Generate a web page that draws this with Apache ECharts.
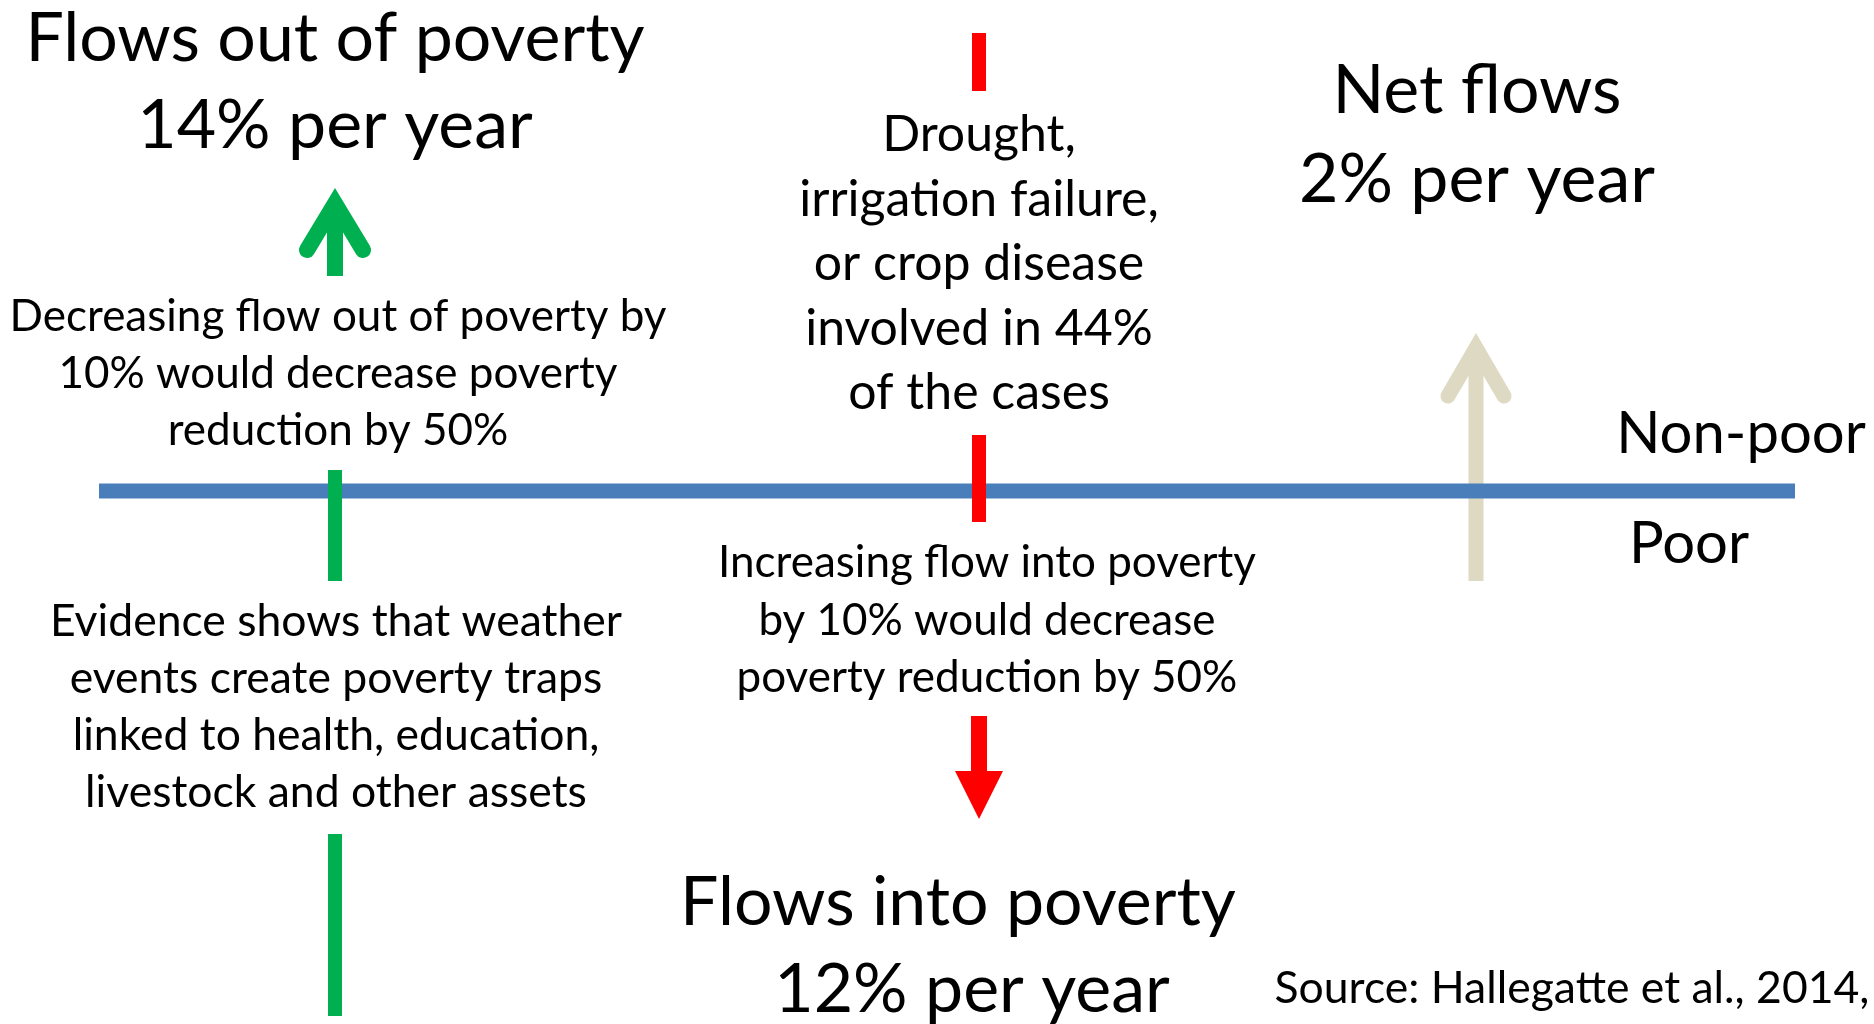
<!DOCTYPE html>
<html>
<head>
<meta charset="utf-8">
<title>Flows in and out of poverty</title>
<script src="https://cdn.jsdelivr.net/npm/echarts@6/dist/echarts.min.js"></script>
<style>
  html, body { margin: 0; padding: 0; background: #ffffff; }
  #chart { width: 1874px; height: 1024px; }
</style>
</head>
<body>
<div id="chart"></div>
<script>
// ---- content -------------------------------------------------------------
const flowTitles = ['Flows out of poverty', 'Flows into poverty', 'Net flows'];
const flowRates = [14, 12, 2];            // share of households per year (%)
const rateSuffix = '% per year';
const sideLabels = ['Non-poor', 'Poor'];
const droughtShare = 44;                  // % of descents into poverty
const droughtNote = ['Drought,', 'irrigation failure,', 'or crop disease',
                     'involved in ' + droughtShare + '%', 'of the cases'];
const outflowNote = ['Decreasing flow out of poverty by', '10% would decrease poverty', 'reduction by 50%'];
const inflowNote = ['Increasing flow into poverty', 'by 10% would decrease', 'poverty reduction by 50%'];
const trapNote = ['Evidence shows that weather', 'events create poverty traps',
                  'linked to health, education,', 'livestock and other assets'];
const sourceNote = 'Source: Hallegatte et al., 2014,';

// ---- layout (canvas units: x to the right, y downwards) --------------------
const W = 1874, H = 1024;
const FONT = 'Lato, "Open Sans", sans-serif';
const BLUE = '#4A7EBB', GREEN = '#00B050', RED = '#FF0000', SAND = '#DDD9C3';

const povertyLine = { x0: 99, x1: 1795, y: 491, width: 15 };
const outX = 335, inX = 979, netX = 1476;

// short vertical bars: [x, yTop, yBottom, colour]
const bars = [
  [outX, 470, 581, GREEN],
  [outX, 834, 1016, GREEN],
  [inX, 33, 91, RED],
  [inX, 435, 522, RED]
];

// arrows
const arrows = [
  { kind: 'open', x: outX, tip: 188, tail: 276, armY: 250, half: 28, w: 16, color: GREEN },
  { kind: 'open', x: netX, tip: 333, tail: 581, armY: 396, half: 28, w: 15, color: SAND },
  { kind: 'solid', x: inX, tip: 819, tail: 716, headTop: 771, half: 24, w: 16, color: RED }
];

// text blocks: lines, centre x, baseline of first line, line step, font size
const textBlocks = [
  { lines: [flowTitles[0], flowRates[0] + rateSuffix], x: 335, base: 62, step: 87, size: 68 },
  { lines: [flowTitles[2], flowRates[2] + rateSuffix], x: 1477, base: 114, step: 89, size: 68 },
  { lines: [flowTitles[1]], x: 958, base: 926, step: 0, size: 68 },
  { lines: [flowRates[1] + rateSuffix], x: 972, base: 1013, step: 0, size: 68 },
  { lines: outflowNote, x: 338, base: 332, step: 57, size: 44 },
  { lines: droughtNote, x: 979, base: 152, step: 64.5, size: 50 },
  { lines: inflowNote, x: 987, base: 578, step: 57.5, size: 44 },
  { lines: trapNote, x: 336, base: 637, step: 57, size: 44.5 },
  { lines: [sideLabels[0]], x: 1741, base: 454, step: 0, size: 58 },
  { lines: [sideLabels[1]], x: 1689, base: 564, step: 0, size: 58 },
  { lines: [sourceNote], x: 1572, base: 1004, step: 0, size: 44.5 }
];

// ---- chart ---------------------------------------------------------------
const chart = echarts.init(document.getElementById('chart'), null, { renderer: 'canvas' });

function segmentSeries(points, color, width) {
  return {
    type: 'line', data: points, symbol: 'none', silent: true, animation: false,
    lineStyle: { color: color, width: width, cap: 'butt' }
  };
}

// y of the chevron's centre-line apex so that the mitred outer point lands on `tip`
function apexFor(a) {
  let yp = a.tip + a.w;
  for (let k = 0; k < 30; k++) {
    const ang = Math.atan(a.half / (a.armY - yp));
    yp = a.tip + (a.w / 2) / Math.sin(ang);
  }
  return yp;
}

function renderArrow(params, api) {
  const a = arrows[params.dataIndex];
  const children = [];
  if (a.kind === 'open') {
    const apex = apexFor(a);
    const pL = api.coord([a.x - a.half, a.armY]);
    const pT = api.coord([a.x, apex]);
    const pR = api.coord([a.x + a.half, a.armY]);
    const s0 = api.coord([a.x, a.tail]);
    const s1 = api.coord([a.x, apex + 2]);
    children.push({
      type: 'line', shape: { x1: s0[0], y1: s0[1], x2: s1[0], y2: s1[1] },
      style: { stroke: a.color, lineWidth: a.w, lineCap: 'butt' }
    });
    children.push({
      type: 'polyline', shape: { points: [pL, pT, pR] },
      style: { stroke: a.color, lineWidth: a.w, lineCap: 'round', lineJoin: 'miter', miterLimit: 10, fill: null }
    });
  } else {
    const s0 = api.coord([a.x, a.tail]);
    const s1 = api.coord([a.x, a.headTop + 1]);
    children.push({
      type: 'line', shape: { x1: s0[0], y1: s0[1], x2: s1[0], y2: s1[1] },
      style: { stroke: a.color, lineWidth: a.w, lineCap: 'butt' }
    });
    children.push({
      type: 'polygon',
      shape: { points: [api.coord([a.x - a.half, a.headTop]), api.coord([a.x + a.half, a.headTop]), api.coord([a.x, a.tip])] },
      style: { fill: a.color }
    });
  }
  return { type: 'group', children: children };
}

function renderText(params, api) {
  const b = textBlocks[params.dataIndex];
  const children = b.lines.map(function (t, i) {
    // 'middle' sits about a third of an em above the baseline for this face
    const p = api.coord([b.x, b.base + i * b.step - 0.335 * b.size]);
    return {
      type: 'text',
      style: {
        text: t, x: p[0], y: p[1], align: 'center', verticalAlign: 'middle',
        fill: '#000000', font: 'normal ' + b.size + 'px ' + FONT
      }
    };
  });
  return { type: 'group', children: children };
}

const series = [
  segmentSeries([[povertyLine.x0, povertyLine.y], [povertyLine.x1, povertyLine.y]], BLUE, povertyLine.width)
];
bars.forEach(function (b) {
  series.push(segmentSeries([[b[0], b[1]], [b[0], b[2]]], b[3], 14));
});
series.push({
  type: 'custom', silent: true, animation: false, clip: false,
  data: arrows.map(function (a) { return [a.x, a.tip]; }),
  renderItem: renderArrow
});
series.push({
  type: 'custom', silent: true, animation: false, clip: false,
  data: textBlocks.map(function (b) { return [b.x, b.base]; }),
  renderItem: renderText
});

chart.setOption({
  backgroundColor: '#ffffff',
  animation: false,
  grid: { left: 0, right: 0, top: 0, bottom: 0 },
  xAxis: { type: 'value', min: 0, max: W, show: false },
  yAxis: { type: 'value', min: 0, max: H, inverse: true, show: false },
  series: series
});
</script>
</body>
</html>
